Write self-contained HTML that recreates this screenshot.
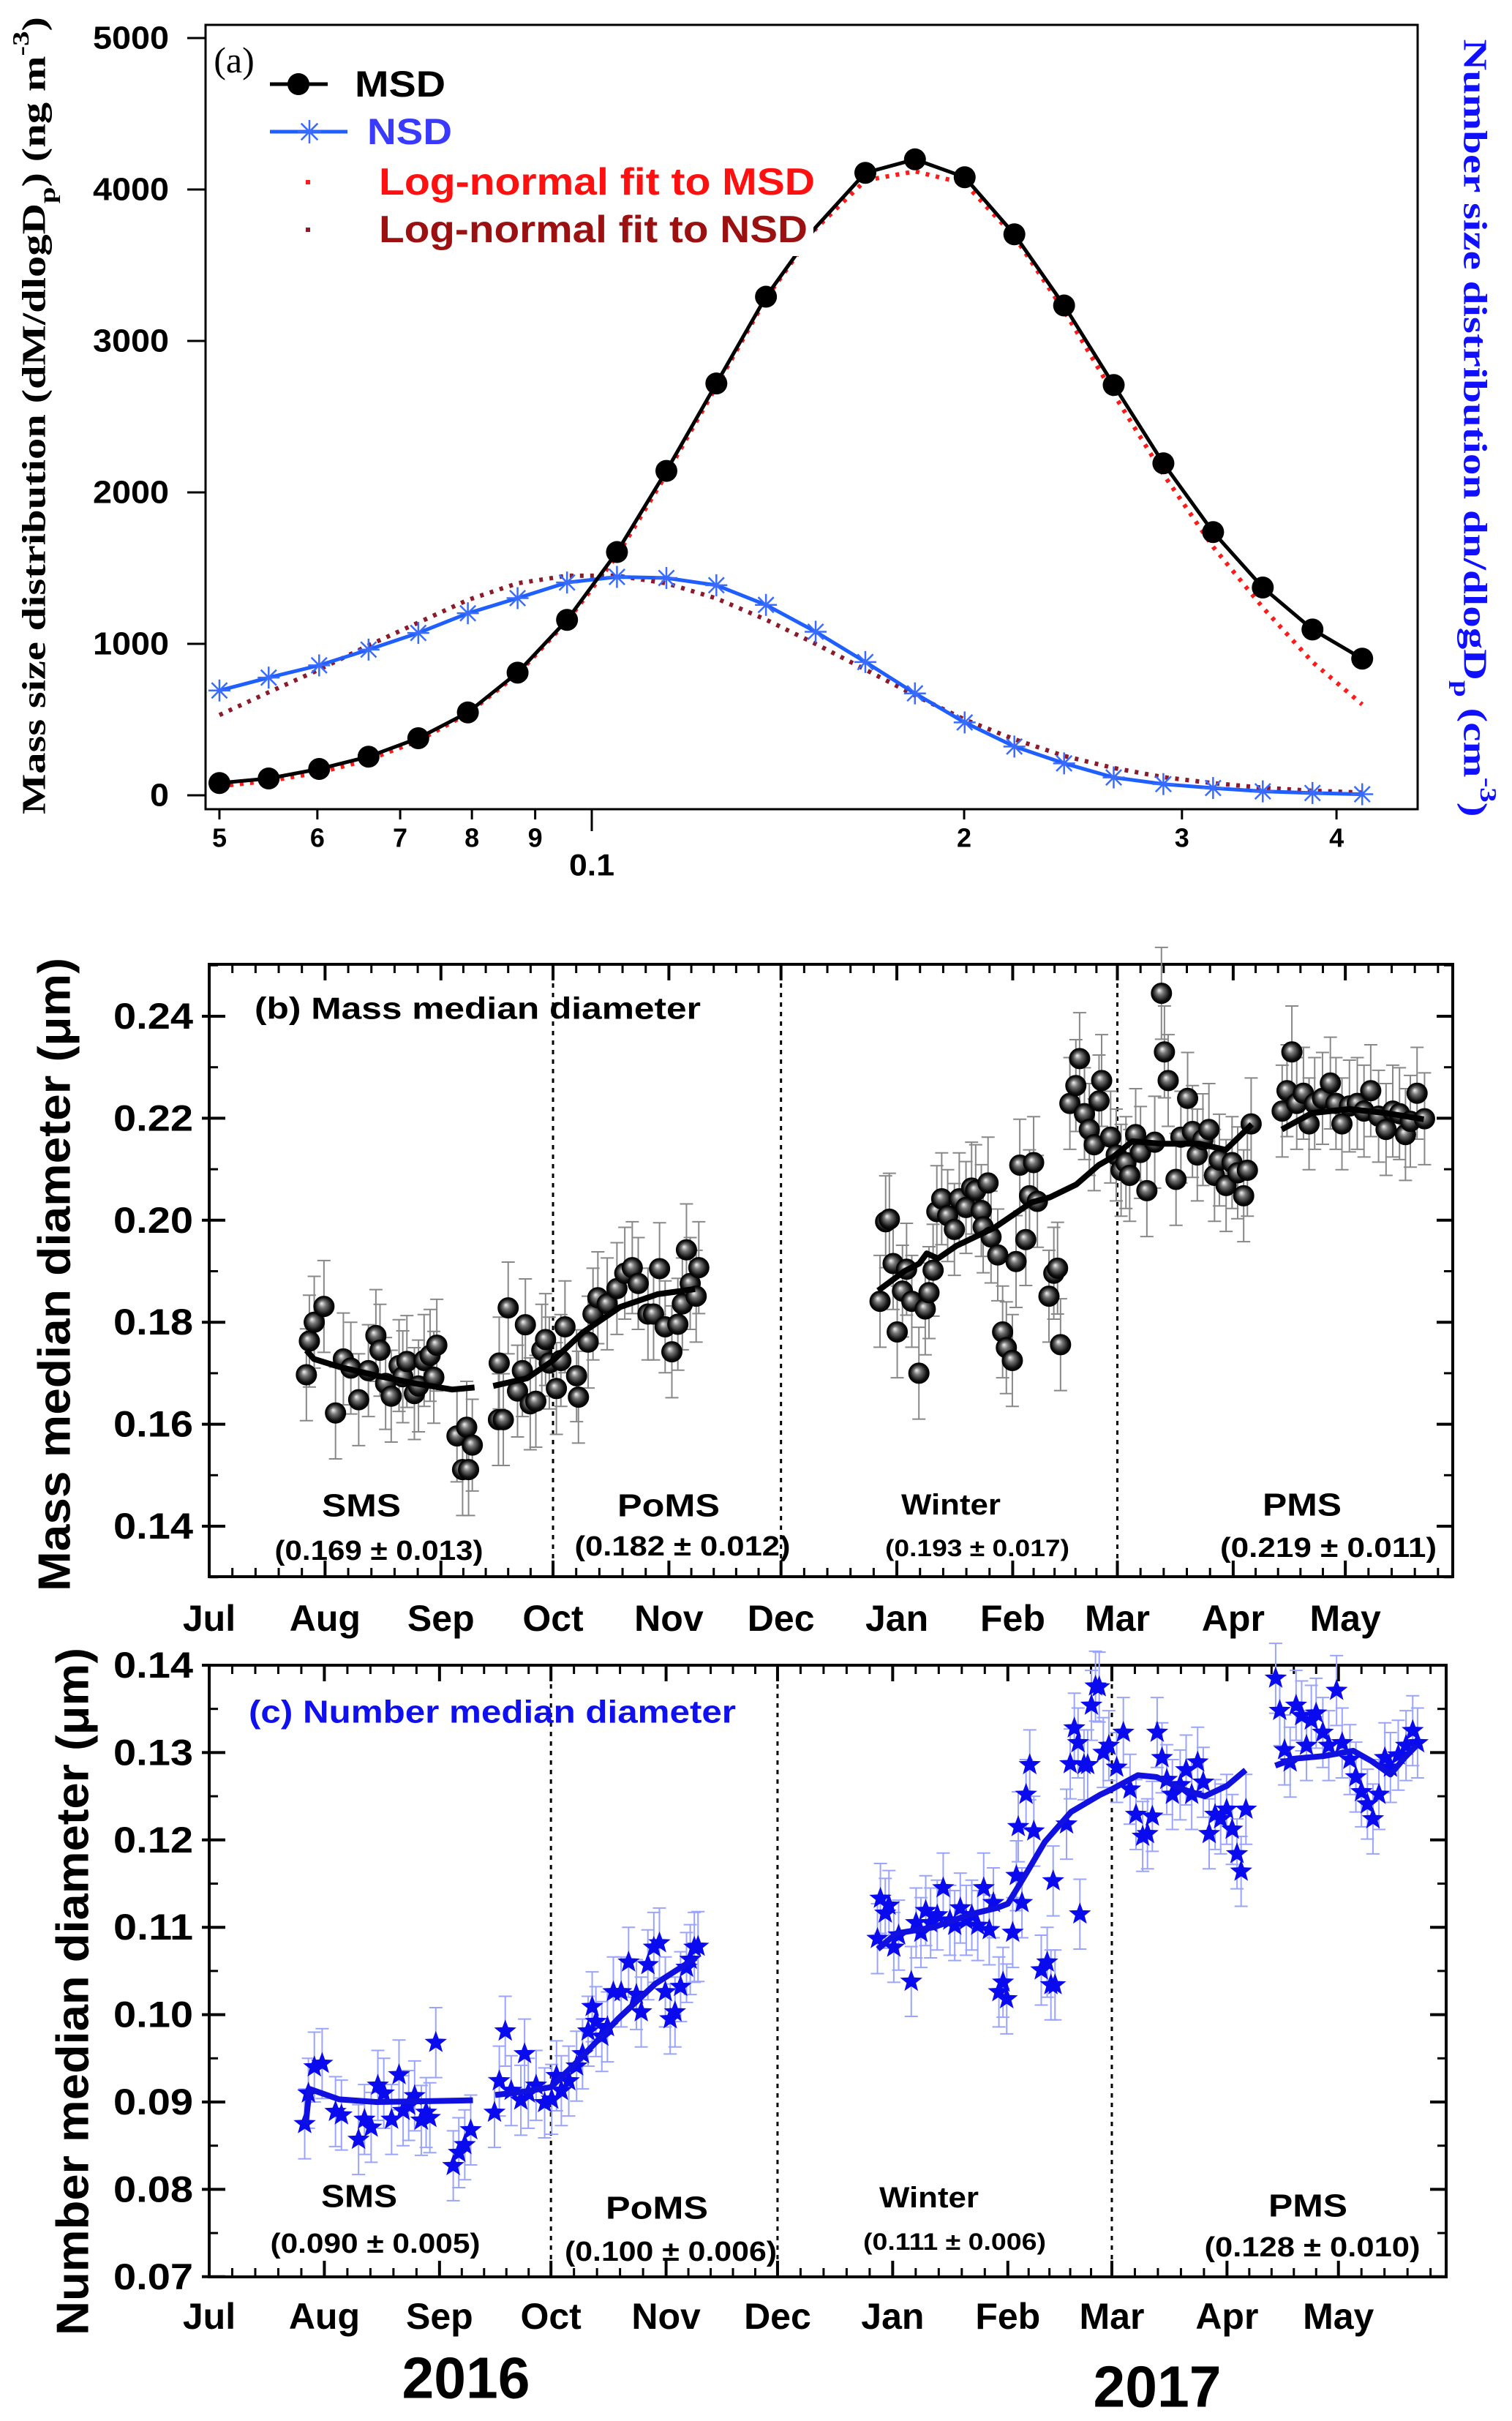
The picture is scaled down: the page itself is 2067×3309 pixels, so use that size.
<!DOCTYPE html>
<html><head><meta charset="utf-8"><style>
html,body{margin:0;padding:0;background:#fff;}
svg{display:block;font-family:"Liberation Sans",sans-serif;}
</style></head><body>
<svg id="fig" xmlns="http://www.w3.org/2000/svg" width="2067" height="3309" viewBox="0 0 2067 3309">
<defs>
<radialGradient id="sph" cx="50%" cy="50%" r="50%" fx="38%" fy="35%">
<stop offset="0" stop-color="#f4f4f4"/><stop offset="0.35" stop-color="#777"/><stop offset="0.8" stop-color="#111"/><stop offset="1" stop-color="#000"/>
</radialGradient>
</defs>
</svg>
<script>
// ---------- Panel (a) data ----------
const aDiam=[0.0500,0.0548,0.0602,0.0660,0.0724,0.0794,0.0871,0.0955,0.1048,0.1149,0.1261,0.1383,0.1517,0.1664,0.1825,0.2002,0.2196,0.2409,0.2642,0.2898,0.3179,0.3487,0.3825,0.4196];
const aMSD=[81,111,174,255,377,547,810,1158,1606,2142,2719,3292,3750,4110,4199,4081,3704,3234,2709,2192,1738,1372,1095,902];
const aNSD=[692,777,858,962,1072,1202,1302,1405,1442,1435,1387,1257,1080,880,673,481,322,211,118,74,48,26,15,7];
const aFitMSD=[60,95,150,235,360,540,800,1150,1580,2120,2700,3280,3740,4060,4120,4040,3690,3200,2650,2120,1640,1240,880,600];
const aFitNSD=[530,680,830,990,1140,1290,1400,1450,1450,1400,1300,1160,1000,830,660,500,370,260,180,120,80,50,30,18];
const aYTicks=[0,1000,2000,3000,4000,5000];
const aXTicks=[0.05,0.06,0.07,0.08,0.09,0.1,0.2,0.3,0.4];
const aXTickLabels=["5","6","7","8","9","0.1","2","3","4"];

// ---------- Panel (b) data (days since 1 Jul 2016) ----------
const bDays=[26,26.8,28.1,30.7,33.8,35.9,37.9,40,42.6,44.6,45.7,47.2,48.7,50.8,51.8,52.9,54.9,56,57.5,59.1,60.1,60.9,66.3,67.8,68.9,70.4,69.4,
77.4,78.7,77.6,80,82.5,84.6,83.8,85.9,87.4,89,90,91,92.9,94.1,95.2,98.3,98.8,101.4,102.7,104,106.5,109.1,111.2,113.2,114.8,117.4,118.9,120.5,122,123.8,125.4,126.6,127.7,128.7,130.3,131,
179.5,181,182,183,184.1,185.5,186.6,188,189.9,191.6,192.6,193.7,194.7,196,197.6,199.4,200.7,202.5,204,205.1,206.6,208.4,207.1,209.2,211,212.3,213.3,214.9,215.9,216.9,218.5,219.5,220.6,221.6,224.7,226,227,227.8,230.3,231.9,232.9,234.2,235.5,236.8,238.1,238.8,
241.2,242.7,244,245.3,246.3,247.9,249.2,250.9,253,254.8,255.6,256.6,258.7,260,261.8,263.1,264.4,265.9,267.5,269,270.3,272.1,273.7,275.2,276.8,277.8,278.8,
287.1,288.4,289.7,291,292.8,294.3,295.8,297.9,300,301.5,303.1,305.1,307.2,309,310.8,312.9,314.9,316.7,318.5,320.1,321.4,323.2,325.2];
const bVals=[0.1697,0.1763,0.18,0.1831,0.1622,0.1728,0.171,0.1648,0.1705,0.1774,0.1745,0.168,0.1655,0.1715,0.1693,0.1723,0.166,0.1675,0.1725,0.1735,0.1692,0.1755,0.1577,0.1511,0.1594,0.1559,0.1511,
0.1609,0.1609,0.172,0.1828,0.1665,0.1795,0.1705,0.164,0.1645,0.1745,0.1766,0.172,0.167,0.1725,0.1791,0.1695,0.1653,0.1761,0.1816,0.1848,0.1836,0.1866,0.1896,0.1907,0.1876,0.1816,0.1816,0.1905,0.1791,0.1742,0.1796,0.1836,0.1942,0.1876,0.1851,0.1907,
0.1841,0.1997,0.2002,0.1915,0.1781,0.1861,0.1904,0.1841,0.17,0.1826,0.1858,0.1902,0.2017,0.2042,0.2009,0.1982,0.2042,0.2025,0.2063,0.2058,0.2019,0.2073,0.1987,0.1967,0.1932,0.1781,0.175,0.1725,0.1919,0.2108,0.1962,0.2048,0.2113,0.2037,0.1851,0.1896,0.1906,0.1756,0.2229,0.2264,0.2317,0.2209,0.2178,0.2148,0.2234,0.2274,
0.2163,0.2128,0.2098,0.2113,0.2088,0.2168,0.2133,0.2058,0.2153,0.2445,0.233,0.2274,0.208,0.2163,0.2239,0.2174,0.2128,0.2158,0.2178,0.2088,0.2118,0.2068,0.2113,0.2093,0.2048,0.2098,0.2189,
0.2214,0.2254,0.233,0.2229,0.2249,0.2189,0.2229,0.2239,0.2269,0.2229,0.2189,0.2224,0.2229,0.2214,0.2254,0.2204,0.2178,0.2214,0.2209,0.2168,0.2194,0.2249,0.2199];
const bErr=0.009;
const bTrendD=[26,28,35,45,55,65,71,null,76,85,92,100,110,120,130,null,179,186,190,192,195,200,210,220,225,232,238,242,247,255,265,272,279,null,287,295,305,315,325];
const bTrendV=[0.1745,0.1728,0.1712,0.1695,0.168,0.1668,0.1672,null,0.1675,0.169,0.1725,0.178,0.183,0.1855,0.1865,null,0.1862,0.19,0.1915,0.1935,0.1925,0.195,0.1985,0.2035,0.2045,0.207,0.2108,0.2125,0.2155,0.215,0.215,0.2138,0.2188,null,0.2178,0.221,0.2218,0.221,0.2198];
const bYTicks=[0.14,0.16,0.18,0.20,0.22,0.24];
const bYLabels=["0.14","0.16","0.18","0.20","0.22","0.24"];

// ---------- Panel (c) data ----------
const cDays=[25.7,26.7,28.3,30.4,34,35.6,40.2,41.8,43.6,45.4,47,49.1,51.1,52.2,53.7,55.3,57.1,58.4,59.4,61,65.7,67.2,68.8,70.4,
76.8,78.1,79.7,81.3,83.9,84.9,85.9,88,90.3,92.2,93.5,94.8,96.8,98.9,100.5,102,103.1,104.1,105.7,107.2,108.8,110.9,112.9,115,116.3,118.1,119.7,121.2,122.8,124.1,125.4,126.9,128.5,129.5,130.6,131.6,
179.9,180.7,182,183,184.3,185.6,189,190.3,191.6,192.9,194.2,196,197.6,199.4,200.7,202.2,203.8,205.3,206.9,208.5,210,211.1,212.6,213.7,214.7,216.3,217.3,217.8,218.8,219.9,220.9,222,224,225.6,226.6,227.7,227.2,230.8,231.8,232.9,233.9,235.5,234.4,236.5,237.5,238.6,239.6,240.7,242.2,
244.3,246.1,247.9,249.5,251.3,252.6,253.9,255.2,256.5,257.8,259.3,261.4,263,264.5,266.1,267.6,269.2,270.8,272.3,273.9,275.4,276.7,277.8,279.1,
287.1,288.2,289.5,291,292.6,294.1,295.4,296.7,298,299.8,301.4,303.5,305,307.1,308.7,310.2,311.8,313.3,314.9,316.5,318,320.1,322.2,324,325.3];
const cVals=[0.0875,0.091,0.094,0.0944,0.0889,0.0885,0.0857,0.088,0.0871,0.0919,0.091,0.088,0.0931,0.089,0.0896,0.0907,0.0879,0.0888,0.0882,0.0968,0.0827,0.0842,0.0851,0.0868,
0.0888,0.0924,0.0981,0.0913,0.0902,0.0955,0.091,0.0919,0.0899,0.0903,0.093,0.0913,0.0924,0.0941,0.0955,0.0981,0.1009,0.0992,0.0975,0.0986,0.1026,0.1026,0.106,0.1023,0.1003,0.1057,0.1077,0.1082,0.1026,0.0995,0.1003,0.1032,0.1054,0.1063,0.1077,0.1078,
0.1087,0.1133,0.1116,0.1125,0.1077,0.1091,0.1038,0.1105,0.1094,0.1119,0.1105,0.1114,0.1145,0.1108,0.1102,0.1122,0.1108,0.1114,0.1102,0.1145,0.1097,0.1128,0.1026,0.1037,0.1018,0.1094,0.1159,0.1215,0.1128,0.1252,0.1286,0.121,0.1051,0.106,0.1034,0.1034,0.1153,0.1218,0.1287,0.1328,0.1311,0.1286,0.1115,0.1286,0.1354,0.1376,0.1375,0.13,0.1308,
0.1283,0.1323,0.1258,0.1229,0.1204,0.1207,0.1227,0.1323,0.1294,0.1269,0.1252,0.1263,0.128,0.1252,0.1289,0.1266,0.1207,0.1229,0.1224,0.1235,0.1212,0.1184,0.1164,0.1235,
0.1385,0.1348,0.1303,0.1289,0.1354,0.1342,0.1308,0.1337,0.1345,0.1323,0.1308,0.1371,0.1311,0.1292,0.1272,0.1255,0.1241,0.1224,0.1252,0.1294,0.1283,0.1297,0.1308,0.1325,0.1311];
const cErr=0.004;
const cTrendD=[26,27,35,45,60,71,null,77,85,92,100,110,120,131,null,180,185,195,205,212,215,220,225,232,240,243,250,255,262,268,274,279,null,287,292,300,308,313,318,322,325];
const cTrendV=[0.0875,0.0915,0.0903,0.09,0.0901,0.0902,null,0.0908,0.0912,0.0917,0.095,0.0995,0.1035,0.1065,null,0.1075,0.1093,0.11,0.1115,0.1122,0.1127,0.1162,0.1198,0.1232,0.1252,0.1258,0.1274,0.1272,0.1258,0.125,0.1262,0.128,null,0.1285,0.1293,0.1296,0.1302,0.129,0.1275,0.1295,0.1308];
const cYTicks=[0.07,0.08,0.09,0.10,0.11,0.12,0.13,0.14];
const cYLabels=["0.07","0.08","0.09","0.10","0.11","0.12","0.13","0.14"];

const monthNames=["Jul","Aug","Sep","Oct","Nov","Dec","Jan","Feb","Mar","Apr","May"];
const monthStart=[0,31,62,92,123,153,184,215,243,274,304];
const seasonBounds=[92,153,243];

// ---------- helpers ----------
const NS="http://www.w3.org/2000/svg";
const svg=document.getElementById('fig');
function el(tag,attrs,parent){const e=document.createElementNS(NS,tag);for(const k in attrs)e.setAttribute(k,attrs[k]);(parent||svg).appendChild(e);return e;}
function grp(name){const g=el('g',{});return g;}
function txt(parent,x,y,s,size,opts){opts=opts||{};const t=el('text',{x:x,y:y,'font-size':size,'font-weight':opts.w||'bold','text-anchor':opts.a||'middle',fill:opts.fill||'#000','dominant-baseline':'central'},parent);
if(opts.tl){t.setAttribute('textLength',opts.tl);t.setAttribute('lengthAdjust','spacingAndGlyphs');}
if(opts.family)t.setAttribute('font-family',opts.family);
if(opts.rot)t.setAttribute('transform','rotate('+opts.rot+' '+x+' '+y+')');
t.textContent=s;return t;}
function pathFrom(xs,ys,fx,fy){let d='',pen=false;for(let i=0;i<xs.length;i++){if(xs[i]===null){pen=false;continue;}d+=(pen?'L':'M')+fx(xs[i]).toFixed(1)+','+fy(ys[i]).toFixed(1);pen=true;}return d;}

// ================= PANEL A =================
const aL=281,aR=1938,aT=34,aB=1106;
const ax=d=>809+Math.log10(d/0.1)*1691;
const ay=v=>1087-v*0.207;
const gA=grp('panel-a');
const frameA=el('rect',{x:aL,y:aT,width:aR-aL,height:aB-aT,fill:'none',stroke:'#000','stroke-width':3},gA);


const aYAx=grp('panel-a-y-axis');gA.appendChild(aYAx);
aYTicks.forEach(v=>{el('line',{x1:aL-25,x2:aL,y1:ay(v),y2:ay(v),stroke:'#000','stroke-width':3},aYAx);
 const t=txt(aYAx,231,ay(v),String(v),44,{a:'end',tl:String(v).length*26});
 
 });
const aXAx=grp('panel-a-x-axis');gA.appendChild(aXAx);
aXTicks.forEach((d,i)=>{const x=ax(d);const major=(d===0.1);
 el('line',{x1:x,x2:x,y1:aB,y2:aB+(major?30:14),stroke:'#000','stroke-width':3},aXAx);
 const t=txt(aXAx,x,major?1182:1145,aXTickLabels[i],major?42:36,{tl:major?62:null});
 
 });
const fitM=el('path',{d:pathFrom(aDiam,aFitMSD,ax,ay),fill:'none',stroke:'#ff1a1a','stroke-width':6,'stroke-dasharray':'5 9'},gA);


const fitN=el('path',{d:pathFrom(aDiam,aFitNSD,ax,ay),fill:'none',stroke:'#8b1a2a','stroke-width':6,'stroke-dasharray':'5 9'},gA);


const nsdL=el('path',{d:pathFrom(aDiam,aNSD,ax,ay),fill:'none',stroke:'#1f5fff','stroke-width':5},gA);


function asterisk(parent,x,y,r,col){const g=el('g',{stroke:col,'stroke-width':2.5},parent);for(let k=0;k<4;k++){const a=k*Math.PI/4;el('line',{x1:x-r*Math.cos(a),y1:y-r*Math.sin(a),x2:x+r*Math.cos(a),y2:y+r*Math.sin(a)},g);}return g;}
aDiam.forEach((d,i)=>{const m=asterisk(gA,ax(d),ay(aNSD[i]),15,'#3a6bff');
 
 });
const msdL=el('path',{d:pathFrom(aDiam,aMSD,ax,ay),fill:'none',stroke:'#000','stroke-width':5},gA);


aDiam.forEach((d,i)=>{if(i===12)return;const c=el('circle',{cx:ax(d),cy:ay(aMSD[i]),r:15,fill:'#000'},gA);
 
 });
const leg=grp('legend');gA.appendChild(leg);
el('rect',{x:292,y:40,width:820,height:310,fill:'#fff'},leg);
txt(leg,320,82,'(a)',50,{family:'"Liberation Serif",serif',w:'normal'});
el('line',{x1:369,x2:448,y1:115,y2:115,stroke:'#000','stroke-width':5},leg);
el('circle',{cx:408,cy:115,r:15,fill:'#000'},leg);
const l1=txt(leg,485,115,'MSD',50,{a:'start',tl:124});
el('line',{x1:369,x2:475,y1:180,y2:180,stroke:'#1f5fff','stroke-width':5},leg);
asterisk(leg,423,180,16,'#3a6bff');
const l2=txt(leg,502,180,'NSD',50,{a:'start',tl:116,fill:'#3a3aff'});
el('rect',{x:418,y:246,width:6,height:6,fill:'#ff1a1a'},leg);
const l3=txt(leg,518,249,'Log-normal fit to MSD',52,{a:'start',tl:596,fill:'#ff1010'});
el('rect',{x:418,y:311,width:6,height:6,fill:'#8b1a2a'},leg);
const l4=txt(leg,518,314,'Log-normal fit to NSD',52,{a:'start',tl:586,fill:'#9b1010'});
const yt=el('text',{x:0,y:0,'font-size':46,'font-weight':'bold','font-family':'"Liberation Serif",serif','text-anchor':'middle','dominant-baseline':'central',transform:'translate(46,568) rotate(-90)',textLength:1090,lengthAdjust:'spacingAndGlyphs'},gA);


yt.innerHTML='Mass size distribution (dM/dlogD<tspan baseline-shift="sub" font-size="32">p</tspan>) (ng m<tspan baseline-shift="super" font-size="32">-3</tspan>)';
const yr=el('text',{x:0,y:0,'font-size':46,'font-weight':'bold','font-family':'"Liberation Serif",serif','text-anchor':'middle','dominant-baseline':'central',fill:'#1010ff',transform:'translate(2017,585) rotate(90)',textLength:1063,lengthAdjust:'spacingAndGlyphs'},gA);


yr.innerHTML='Number size distribution dn/dlogD<tspan baseline-shift="sub" font-size="32">p</tspan> (cm<tspan baseline-shift="super" font-size="32">-3</tspan>)';

// ================= PANELS B & C =================
function timePanel(cfg){
 const g=grp(cfg.name);
 const X=d=>cfg.L+d*cfg.ppd, Y=v=>cfg.y0+(cfg.v0-v)*cfg.k;
 const fr=el('rect',{x:cfg.L,y:cfg.T,width:cfg.R-cfg.L,height:cfg.B-cfg.T,fill:'none',stroke:'#000','stroke-width':4},g);
 
 
 const ya=grp(cfg.name+'-y-axis');g.appendChild(ya);
 for(let v=cfg.yMin;v<=cfg.yMax+1e-9;v+=cfg.minor){const y=Y(v);if(y<cfg.T-1||y>cfg.B+1)continue;
  el('line',{x1:cfg.L,x2:cfg.L+12,y1:y,y2:y,stroke:'#000','stroke-width':3},ya);
  el('line',{x1:cfg.R-12,x2:cfg.R,y1:y,y2:y,stroke:'#000','stroke-width':3},ya);}
 cfg.yTicks.forEach((v,i)=>{const y=Y(v);
  el('line',{x1:cfg.L-10,x2:cfg.L+22,y1:y,y2:y,stroke:'#000','stroke-width':4},ya);
  el('line',{x1:cfg.R-22,x2:cfg.R,y1:y,y2:y,stroke:'#000','stroke-width':4},ya);
  const t=txt(ya,264,y,cfg.yLabels[i],50,{a:'end',tl:109});
  
  });
 const xa=grp(cfg.name+'-x-axis');g.appendChild(xa);
 const ends=monthStart.concat([335]);
 for(let m=0;m<monthStart.length;m++){const len=ends[m+1]-ends[m];
  for(let s=1;s<5;s++){const x=X(ends[m]+len*s/5);if(x>cfg.R-3)continue;
   el('line',{x1:x,x2:x,y1:cfg.T,y2:cfg.T+12,stroke:'#000','stroke-width':3},xa);
   el('line',{x1:x,x2:x,y1:cfg.B-12,y2:cfg.B,stroke:'#000','stroke-width':3},xa);}
  const x=X(monthStart[m]);
  el('line',{x1:x,x2:x,y1:cfg.T,y2:cfg.T+22,stroke:'#000','stroke-width':4},xa);
  el('line',{x1:x,x2:x,y1:cfg.B-22,y2:cfg.B,stroke:'#000','stroke-width':4},xa);
  const t=txt(xa,x,cfg.monthY,monthNames[m],50,{});
  
  }
 seasonBounds.forEach(d=>{const l=el('line',{x1:X(d),x2:X(d),y1:cfg.T,y2:cfg.B,stroke:'#000','stroke-width':3,'stroke-dasharray':'6 7'},g);
  
  });
 const eb=grp(cfg.name+'-error-bars');g.appendChild(eb);
 cfg.days.forEach((d,i)=>{const x=X(d),y1=Y(cfg.vals[i]+cfg.err),y2=Y(cfg.vals[i]-cfg.err);
  el('line',{x1:x,x2:x,y1:y1,y2:y2,stroke:cfg.errCol,'stroke-width':2},eb);
  el('line',{x1:x-9,x2:x+9,y1:y1,y2:y1,stroke:cfg.errCol,'stroke-width':2},eb);
  el('line',{x1:x-9,x2:x+9,y1:y2,y2:y2,stroke:cfg.errCol,'stroke-width':2},eb);});
 const pts=grp(cfg.name+'-points');g.appendChild(pts);
 cfg.days.forEach((d,i)=>{cfg.marker(pts,X(d),Y(cfg.vals[i]));});
 const tr=el('path',{d:pathFrom(cfg.tD,cfg.tV,X,Y),fill:'none',stroke:cfg.trendCol,'stroke-width':8,'stroke-linejoin':'round','stroke-dasharray':cfg.dash||'none'},g);
 
 
 return g;
}
timePanel({name:'panel-b',L:286,R:1986,T:1318,B:2155,ppd:5.109,y0:1389,v0:0.24,k:6970,yMin:0.13,yMax:0.25,minor:0.01,
 yTicks:bYTicks,yLabels:bYLabels,monthY:2212,days:bDays,vals:bVals,err:bErr,errCol:'#888',tD:bTrendD,tV:bTrendV,trendCol:'#000',
 marker:(p,x,y)=>{const c=el('circle',{cx:x,cy:y,r:14,fill:'url(#sph)',stroke:'#000','stroke-width':1},p);
  
  }});
function starPts(x,y,r){let s='';for(let k=0;k<10;k++){const rr=k%2?r*0.42:r;const a=-Math.PI/2+k*Math.PI/5;s+=(x+rr*Math.cos(a)).toFixed(1)+','+(y+rr*Math.sin(a)).toFixed(1)+' ';}return s;}
timePanel({name:'panel-c',L:286,R:1977,T:2276,B:3112,ppd:5.078,y0:2276,v0:0.14,k:11940,yMin:0.07,yMax:0.14,minor:0.005,
 yTicks:cYTicks,yLabels:cYLabels,monthY:3166,days:cDays,vals:cVals,err:cErr,errCol:'#9aa4ff',tD:cTrendD,tV:cTrendV,trendCol:'#1010e0',
 marker:(p,x,y)=>{const s=el('polygon',{points:starPts(x,y,16),fill:'#0a0aee'},p);
  
  }});

const ann=grp('annotations');
function lab(x,y,s,size,name,opts){const t=txt(ann,x,y,s,size,opts||{});return t;}
lab(75,1742,'Mass median diameter (\u03bcm)',62,'panel-b-y-axis-title',{rot:-90,tl:866});
lab(100,2722,'Number median diameter (\u03bcm)',62,'panel-c-y-axis-title',{rot:-90,tl:940});
lab(348,1378,'(b)  Mass median diameter',42,'panel-b-title',{a:'start',tl:610});
lab(340,2340,'(c) Number median diameter',44,'panel-c-title',{a:'start',tl:666,fill:'#1010ee'});
lab(494,2058,'SMS',44,'season-label-sms',{tl:108});
lab(518,2120,'(0.169 \u00b1 0.013)',38,'season-mean-sms',{tl:285});
lab(914,2058,'PoMS',44,'season-label-poms',{tl:140});
lab(933,2114,'(0.182 \u00b1 0.012)',38,'season-mean-poms',{tl:295});
lab(1300,2057,'Winter',40,'season-label-winter',{tl:136});
lab(1336,2116,'(0.193 \u00b1 0.017)',32,'season-mean-winter',{tl:252});
lab(1780,2057,'PMS',44,'season-label-pms',{tl:108});
lab(1816,2116,'(0.219 \u00b1 0.011)',38,'season-mean-pms',{tl:296});
lab(491,3002,'SMS',44,'season-label-sms-c',{tl:104});
lab(513,3067,'(0.090 \u00b1 0.005)',38,'season-mean-sms-c',{tl:287});
lab(898,3018,'PoMS',44,'season-label-poms-c',{tl:140});
lab(917,3078,'(0.100 \u00b1 0.006)',38,'season-mean-poms-c',{tl:290});
lab(1270,3004,'Winter',40,'season-label-winter-c',{tl:136});
lab(1305,3064,'(0.111 \u00b1 0.006)',32,'season-mean-winter-c',{tl:250});
lab(1788,3015,'PMS',44,'season-label-pms-c',{tl:108});
lab(1794,3072,'(0.128 \u00b1 0.010)',38,'season-mean-pms-c',{tl:295});
lab(637,3250,'2016',80,'year-2016',{tl:175});
lab(1582,3262,'2017',80,'year-2017',{tl:175});
</script>
</body></html>
